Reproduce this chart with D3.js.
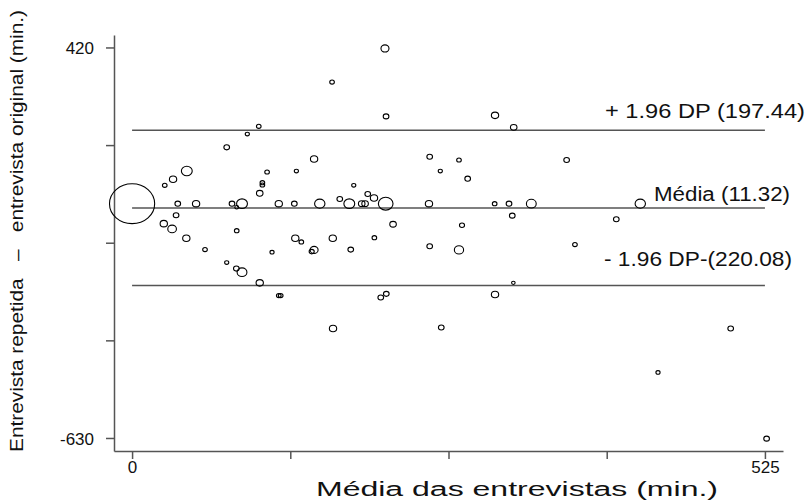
<!DOCTYPE html>
<html>
<head>
<meta charset="utf-8">
<script src="https://cdn.jsdelivr.net/npm/d3@7"></script>
<style>
  body { margin: 0; background: #fff; }
  svg { display: block; font-family: "Liberation Sans", Arial, sans-serif; }
</style>
</head>
<body>
<svg width="806" height="501"></svg>
<script>
// média das duas entrevistas (min.)
var media = [209.8, 165.9, 210.7, 105.1, 95.6, 78.5, 151.0, 246.9, 45.4, 34.0,
  27.1, 112.0, 136.3, 255.7, 108.1, 108.1, 183.9, 105.9, 195.5, 200.7,
  172.3, 0, 37.9, 53.1, 82.9, 86.8, 91.2, 121.7, 134.6, 155.7,
  180.2, 190.5, 193.3, 210.4, 246.3, 36.5, 26.3, 33.2, 86.8, 216.5,
  45.0, 135.4, 140.4, 166.5, 201.0, 60.5, 78.5, 86.5, 91.2, 105.9,
  116.1, 149.0, 151.0, 181.4, 246.9, 121.7, 123.3, 206.3, 210.9, 166.7,
  256.5, 301.1, 316.6, 271.2, 360.5, 278.4, 300.8, 312.7, 331.2, 421.6,
  315.4, 401.7, 273.7, 271.2, 367.4, 316.3, 301.1, 496.6, 436.3, 526.4];
// diferença: repetida - original (min.)
var diferenca = [417.3, 326.8, 234.7, 207.9, 187.2, 151.5, 120.1, 126.2, 87.8, 65.5,
  49.4, 85.1, 87.8, 87.8, 56.4, 50.2, 49.4, 27.9, 26.1, 15.3,
  12.6, 0, 0, 0, 0, -9.6, 0, 0, 0, 0,
  0, 0, 0, 0, 0, -31.1, -53.7, -67.9, -72.5, -55.3,
  -92.9, -92.9, -102.8, -92.9, -91.3, -123.5, -158.4, -174.5, -184.2, -212.9,
  -130.5, -128.9, -124.3, -123.5, -114.4, -247.0, -247.0, -252.4, -242.5, -335.6,
  -333.0, 237.4, 205.2, 117.4, 117.4, 67.2, 0, 0, 0, 0,
  -32.2, -41.9, -58.0, -124.3, -110.1, -212.9, -244.3, -335.6, -453.8, -631.8];
// peso (frequência) de cada ponto
var peso = [3, 1, 1.5, 1, 0.8, 1.5, 2.5, 1.5, 5.5, 2.5,
  1, 1, 0.8, 0.8, 1, 1, 0.8, 2, 1.5, 2.5,
  1.5, 95, 1.5, 2.5, 1.5, 0.7, 5.5, 2.5, 1.5, 5,
  5.5, 2, 2, 10, 2.5, 1.5, 2.5, 3.5, 1, 2,
  2.5, 2.5, 1, 2.5, 1, 1, 0.8, 1.5, 4.5, 2.5,
  0.8, 1.2, 3, 1.5, 1.5, 1, 1, 1.5, 1.5, 2.5,
  1.5, 2.5, 2, 1, 1.5, 1.5, 1, 1.5, 4.5, 5,
  1.5, 1.5, 1.2, 4, 1, 0.6, 2.5, 1.5, 0.8, 1.5];

// linhas de referência
var limites = [197.44, -11.32, -220.08];
var rotulos = ["+ 1.96 DP (197.44)", "Média (11.32)", "- 1.96 DP-(220.08)"];
var yTicks = [420, 157.5, -105, -367.5, -630];
var xTicks = [0, 131.25, 262.5, 393.75, 525];

var svg = d3.select("svg");

var x = d3.scaleLinear().domain([-15, 540]).range([114, 783]);
var y = d3.scaleLinear().domain([-665, 453.5]).range([451, 35]);
var r = d3.scaleSqrt().domain([0, 1]).range([0, 2.05]);

// eixos
var gx = svg.append("g")
  .attr("transform", "translate(0,451)")
  .call(d3.axisBottom(x).tickValues(xTicks).tickSize(8).tickSizeOuter(0)
    .tickFormat(function(d) { return (d === 0 || d === 525) ? d : ""; }));
var gy = svg.append("g")
  .attr("transform", "translate(114,0)")
  .call(d3.axisLeft(y).tickValues(yTicks).tickSize(8).tickSizeOuter(0)
    .tickFormat(function(d) { return (d === 420 || d === -630) ? d : ""; }));

[gx, gy].forEach(function(g) {
  g.select(".domain").attr("stroke", "#555").attr("stroke-width", 1.5);
  g.selectAll(".tick line").attr("stroke", "#555").attr("stroke-width", 1.5);
  g.selectAll(".tick text").attr("fill", "#111").attr("font-size", 17)
    .attr("font-family", "Liberation Sans, Arial, sans-serif");
});
gx.selectAll(".tick text").attr("y", 10).attr("dy", "0.71em");
gy.selectAll(".tick text").attr("x", -20).attr("dy", "0.36em");

// linhas da média e limites
svg.append("g").selectAll("line")
  .data(limites)
  .enter()
  .append("line")
    .attr("x1", x(0))
    .attr("x2", x(525))
    .attr("y1", function(d) { return y(d); })
    .attr("y2", function(d) { return y(d); })
    .attr("stroke", "#555")
    .attr("stroke-width", 1.5);

// pontos (elipses)
var pontos = media.map(function(m, i) { return {m: m, d: diferenca[i], w: peso[i]}; });
svg.append("g").selectAll("ellipse")
  .data(pontos)
  .enter()
  .append("ellipse")
    .attr("cx", function(d) { return x(d.m); })
    .attr("cy", function(d) { return y(d.d); })
    .attr("rx", function(d) { return r(d.w) * 1.13; })
    .attr("ry", function(d) { return r(d.w); })
    .attr("fill", "none")
    .attr("stroke", "#000")
    .attr("stroke-width", 1.1);

// rótulos das linhas
var rotX = [605, 654, 604];
var rotY = [118, 201, 266];
var rotW = [200, 136, 188];
svg.append("g").selectAll("text")
  .data(rotulos)
  .enter()
  .append("text")
    .attr("x", function(d, i) { return rotX[i]; })
    .attr("y", function(d, i) { return rotY[i]; })
    .attr("textLength", function(d, i) { return rotW[i]; })
    .attr("lengthAdjust", "spacingAndGlyphs")
    .attr("font-size", 20)
    .attr("fill", "#111")
    .text(function(d) { return d; });

// títulos dos eixos
svg.append("text")
  .attr("x", 517)
  .attr("y", 496)
  .attr("text-anchor", "middle")
  .attr("font-size", 20)
  .attr("textLength", 402)
  .attr("lengthAdjust", "spacingAndGlyphs")
  .attr("fill", "#111")
  .text("Média das entrevistas (min.)");

svg.append("text")
  .attr("transform", "translate(23,231) rotate(-90)")
  .attr("text-anchor", "middle")
  .attr("font-size", 19)
  .attr("textLength", 442)
  .attr("lengthAdjust", "spacingAndGlyphs")
  .attr("fill", "#111")
  .attr("xml:space", "preserve")
  .text("Entrevista repetida   \u2013   entrevista original (min.)");
</script>
</body>
</html>
